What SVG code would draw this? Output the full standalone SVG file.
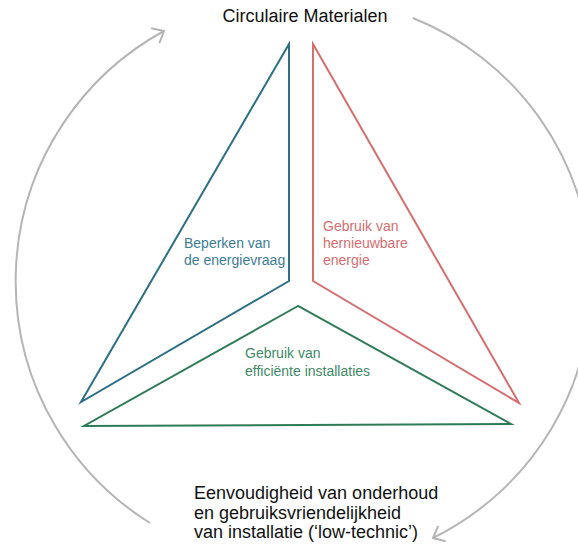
<svg xmlns="http://www.w3.org/2000/svg" width="578" height="546" viewBox="0 0 578 546">
<style>
  .lbl { font-family: "Liberation Sans", Arial, sans-serif; font-size: 14px; }
  .big { font-family: "Liberation Sans", Arial, sans-serif; font-size: 18px; fill: #111; }
  .tri { fill: none; stroke-width: 2; stroke-linejoin: miter; }
  .arc { fill: none; stroke: #b5b5b5; stroke-width: 2; }
</style>
<defs>
  <marker id="open" markerUnits="userSpaceOnUse" markerWidth="20" markerHeight="20" refX="0" refY="0" orient="auto" viewBox="-12 -10 14 20" overflow="visible">
    <path d="M -10 -8.5 L 0 0 L -10 8.5" fill="none" stroke="#b5b5b5" stroke-width="2"/>
  </marker>
</defs>
<rect width="578" height="546" fill="#ffffff"/>
<g id="connectors">
  <path class="arc" d="M 150 523 A 285 285 0 0 1 164 31" marker-end="url(#open)"/>
  <path class="arc" d="M 413 18 A 285 285 0 0 1 433 538" marker-end="url(#open)"/>
</g>
<g id="title">
  <text class="big" x="305" y="22" text-anchor="middle">Circulaire Materialen</text>
</g>
<g id="beperken">
  <polygon class="tri" stroke="#2c6f86" points="289,44 289,281 81,402"/>
  <text class="lbl" fill="#3b7d96" x="184" y="248">Beperken van</text>
  <text class="lbl" fill="#3b7d96" x="184" y="265">de energievraag</text>
</g>
<g id="hernieuwbaar">
  <polygon class="tri" stroke="#d66d6e" points="313,44 313,281 519,403"/>
  <text class="lbl" fill="#d66d6e" x="323" y="231">Gebruik van</text>
  <text class="lbl" fill="#d66d6e" x="323" y="248">hernieuwbare</text>
  <text class="lbl" fill="#d66d6e" x="323" y="265">energie</text>
</g>
<g id="efficient">
  <polygon class="tri" stroke="#2e7b58" points="298,306 84,426 511,424"/>
  <text class="lbl" fill="#3e8a66" x="245" y="358">Gebruik van</text>
  <text class="lbl" fill="#3e8a66" x="245" y="376">efficiënte installaties</text>
</g>
<g id="eenvoud">
  <text class="big" x="194" y="499">Eenvoudigheid van onderhoud</text>
  <text class="big" x="194" y="518.5">en gebruiksvriendelijkheid</text>
  <text class="big" x="194" y="538">van installatie (‘low-technic’)</text>
</g>
</svg>
